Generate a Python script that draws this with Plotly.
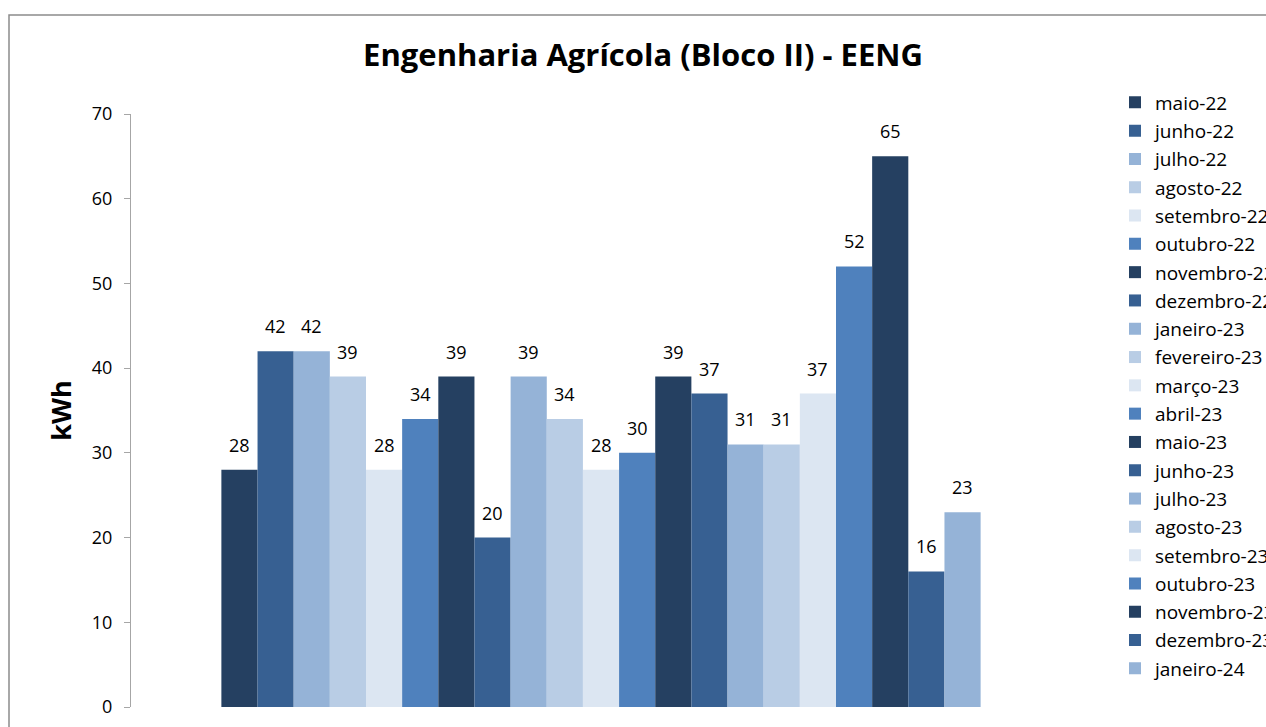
import plotly.graph_objects as go

months = ["maio-22", "junho-22", "julho-22", "agosto-22", "setembro-22", "outubro-22",
          "novembro-22", "dezembro-22", "janeiro-23", "fevereiro-23", "março-23", "abril-23",
          "maio-23", "junho-23", "julho-23", "agosto-23", "setembro-23", "outubro-23",
          "novembro-23", "dezembro-23", "janeiro-24"]
values = [28, 42, 42, 39, 28, 34, 39, 20, 39, 34, 28, 30, 39, 37, 31, 31, 37, 52, 65, 16, 23]
palette = ["#254061", "#376092", "#95B3D7", "#B9CDE5", "#DCE6F2", "#4F81BD"]
y_ticks = [0, 10, 20, 30, 40, 50, 60, 70]

FONT = "Open Sans"
W, H = 1266, 727
L, R, T, B = 131, 1071, 114, 707
pw, ph = R - L, B - T

fig = go.Figure()
for i, (m, v) in enumerate(zip(months, values)):
    fig.add_trace(go.Bar(
        x=[i], y=[v], name=m, width=1,
        marker=dict(color=palette[i % 6], line=dict(width=0)),
        legendgroup=m,
    ))
    fig.add_annotation(x=i, y=v, text=str(v), showarrow=False,
                       yanchor="bottom", xanchor="center", yshift=11,
                       font=dict(size=18, color="#000000", family=FONT))

fig.update_layout(
    width=W, height=H,
    margin=dict(l=L, r=W - R, t=T, b=H - B, autoexpand=False),
    paper_bgcolor="white", plot_bgcolor="white",
    barmode="overlay",
    font=dict(family=FONT, size=18, color="#000000"),
    title=dict(text="<b>Engenharia Agrícola (Bloco II) - EENG</b>",
               x=643 / W, xanchor="center", y=1 - 55 / H, yanchor="middle",
               font=dict(size=31, family=FONT, color="#000000")),
    showlegend=True,
    legend=dict(xref="container", yref="container",
                x=1115 / W, xanchor="left", y=1 - 83.5 / H, yanchor="top",
                font=dict(size=19, color="#000000", family=FONT), tracegroupgap=0.6,
                bgcolor="rgba(0,0,0,0)", maxheight=700),
    xaxis=dict(range=[-3, 23], showticklabels=False, showline=False, ticks="",
               showgrid=False, zeroline=False, fixedrange=True),
    yaxis=dict(range=[0, 70], tickvals=y_ticks, showgrid=False, zeroline=False,
               showline=True, linecolor="#A6A6A6", linewidth=1.2,
               ticks="outside", ticklen=6, tickcolor="#A6A6A6", tickwidth=1.2,
               ticklabelstandoff=8,
               tickfont=dict(size=18, color="#000000", family=FONT),
               title=dict(text="<b>kWh</b>", font=dict(size=27, color="#000000", family=FONT),
                          standoff=12)),
)

fig.add_shape(type="rect", xref="paper", yref="paper",
              x0=(9 - L) / pw, x1=(1320 - L) / pw,
              y0=(B - 770) / ph, y1=(B - 15) / ph,
              line=dict(color="#8C8C8C", width=1.5), fillcolor="rgba(0,0,0,0)", layer="below")

fig.write_html("out.html", config={"displayModeBar": False},
               post_script="document.body.style.margin='0';document.body.style.overflow='hidden';")
